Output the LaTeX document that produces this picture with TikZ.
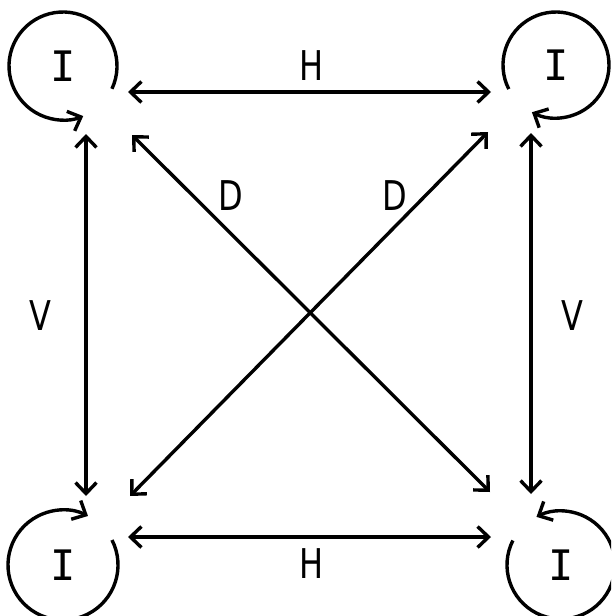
\documentclass[tikz,border=0pt]{standalone}
\usepackage{fontspec}
\setmainfont{DejaVu Sans}
\newfontfamily\monof{DejaVu Sans Mono}
\usetikzlibrary{arrows.meta}
\begin{document}
\begin{tikzpicture}[x=1pt,y=-1pt,
  line width=3.4pt,
  rel/.style={{Straight Barb[length=11pt,width=21pt]}-{Straight Barb[length=11pt,width=21pt]}},
  loopline/.style={-{Straight Barb[length=11pt,width=21pt]}},
  lbl/.style={font=\fontsize{41}{41}\selectfont, inner sep=0pt},
  ibox/.style={font=\monof\fontsize{42}{42}\selectfont, inner sep=0pt}]
\useasboundingbox (0,0) rectangle (611,616);
\begin{scope}
\clip (0,0) rectangle (611,616);
% loop nodes
\node[ibox] (tl) at (63,66) {I};
\node[ibox] (tr) at (556,65) {I};
\node[ibox] (bl) at (63,565) {I};
\node[ibox] (br) at (561,565) {I};
% self loops
\draw[loopline] (tl.center) ++(25:54) arc[start angle=25, end angle=-292, radius=54];
\draw[loopline] (tr.center) ++(153:53) arc[start angle=153, end angle=477, radius=53];
\draw[loopline] (bl.center) ++(-27:55) arc[start angle=-27, end angle=297, radius=55];
\draw[loopline] (br.center) ++(207:54) arc[start angle=207, end angle=-117, radius=54];
\end{scope}
% connector ends
\coordinate (h1a) at (128,92);
\coordinate (h1b) at (491,92);
\coordinate (h2a) at (128,537);
\coordinate (h2b) at (491,537);
\coordinate (v1a) at (86,134);
\coordinate (v1b) at (86,496);
\coordinate (v2a) at (531,133);
\coordinate (v2b) at (531,494);
\coordinate (d1a) at (132,135);
\coordinate (d1b) at (490,492);
\coordinate (d2a) at (488,132);
\coordinate (d2b) at (130,496);
\draw[rel] (h1a) -- (h1b);
\draw[rel] (h2a) -- (h2b);
\draw[rel] (v1a) -- (v1b);
\draw[rel] (v2a) -- (v2b);
\draw[rel] (d1a) -- (d1b);
\draw[rel] (d2a) -- (d2b);
% labels
\node[lbl] (lh1) at (312,66) {\scalebox{0.78}[1]{H}};
\node[lbl] (lh2) at (312,564) {\scalebox{0.78}[1]{H}};
\node[lbl] (lv1) at (40,316) {\scalebox{0.78}[1]{V}};
\node[lbl] (lv2) at (572,316) {\scalebox{0.78}[1]{V}};
\node[lbl] (ld1) at (231,196) {\scalebox{0.78}[1]{D}};
\node[lbl] (ld2) at (395,196) {\scalebox{0.78}[1]{D}};
\end{tikzpicture}
\end{document}
